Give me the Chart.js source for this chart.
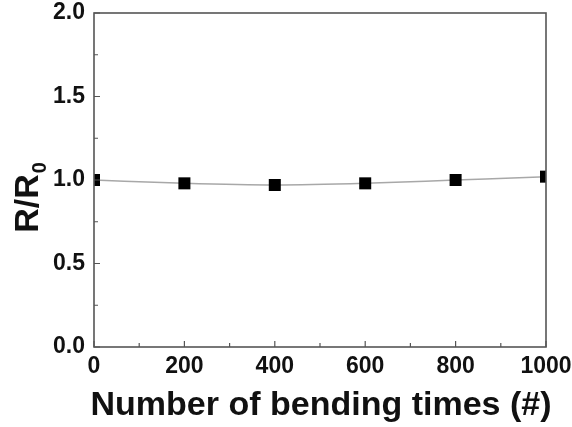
<!DOCTYPE html>
<html>
<head>
<meta charset="utf-8">
<script src="https://cdn.jsdelivr.net/npm/chart.js@4.4.1/dist/chart.umd.min.js"></script>
<style>
  html, body { margin: 0; padding: 0; background: #fff; }
  #wrap { width: 572px; height: 427px; }
</style>
</head>
<body>
<div id="wrap"><canvas id="myChart" width="572" height="427"></canvas></div>
<script>
// data
var bendTimes = [0, 200, 400, 600, 800, 1000];
var resistanceRatio = [1.0, 0.98, 0.97, 0.98, 1.0, 1.02];
var xTicks = [0, 200, 400, 600, 800, 1000];
var yTicks = [0.0, 0.5, 1.0, 1.5, 2.0];
var xMinor = [100, 300, 500, 700, 900];
var yMinor = [0.25, 0.75, 1.25, 1.75];

var FONT = "'Liberation Sans', Arial, sans-serif";

// frame, inward ticks, axis titles
const framePlugin = {
  id: 'framePlugin',
  afterDraw: (chart) => {
    const ctx = chart.ctx;
    const {top, left, right, bottom} = chart.chartArea;
    const xs = chart.scales.x, ys = chart.scales.y;
    ctx.save();
    ctx.strokeStyle = '#555';
    ctx.lineWidth = 1.6;
    ctx.strokeRect(left, top, right - left, bottom - top);

    ctx.lineWidth = 1.2;
    ctx.beginPath();
    xTicks.forEach(v => { var px = xs.getPixelForValue(v); ctx.moveTo(px, bottom); ctx.lineTo(px, bottom - 6); });
    xMinor.forEach(v => { var px = xs.getPixelForValue(v); ctx.moveTo(px, bottom); ctx.lineTo(px, bottom - 4); });
    yTicks.forEach(v => { var py = ys.getPixelForValue(v); ctx.moveTo(left, py); ctx.lineTo(left + 6, py); });
    yMinor.forEach(v => { var py = ys.getPixelForValue(v); ctx.moveTo(left, py); ctx.lineTo(left + 4, py); });
    ctx.stroke();

    // x title
    ctx.fillStyle = '#111';
    ctx.font = 'bold 34px ' + FONT;
    ctx.textAlign = 'center';
    ctx.textBaseline = 'alphabetic';
    ctx.fillText('Number of bending times (#)', 321, 415);

    // y title R/R0 with subscript
    ctx.translate(38, 198);
    ctx.rotate(-Math.PI / 2);
    var main = 'R/R';
    ctx.font = 'bold 34px ' + FONT;
    var w1 = ctx.measureText(main).width;
    ctx.font = 'bold 20px ' + FONT;
    var w2 = ctx.measureText('0').width;
    var x0 = -(w1 + w2) / 2;
    ctx.textAlign = 'left';
    ctx.font = 'bold 34px ' + FONT;
    ctx.fillText(main, x0, 0);
    ctx.font = 'bold 20px ' + FONT;
    ctx.fillText('0', x0 + w1 + 1, 8);
    ctx.restore();
  }
};

var ctx = document.getElementById('myChart').getContext('2d');

const config = {
  type: 'line',
  data: {
    datasets: [{
      data: bendTimes.map((t, i) => ({x: t, y: resistanceRatio[i]})),
      borderColor: '#a8a8a8',
      borderWidth: 1.5,
      cubicInterpolationMode: 'monotone',
      pointStyle: 'rect',
      pointRadius: 8.5,
      pointBackgroundColor: '#000',
      pointBorderColor: '#000',
      pointBorderWidth: 0,
      fill: false
    }]
  },
  plugins: [framePlugin],
  options: {
    responsive: false,
    animation: false,
    layout: { padding: { top: 13, right: 26, left: 0, bottom: 0 } },
    scales: {
      x: {
        type: 'linear',
        min: 0,
        max: 1000,
        grid: { display: false, drawTicks: false },
        border: { display: false },
        ticks: {
          stepSize: 200,
          padding: 6,
          color: '#111',
          font: { family: FONT, size: 23, weight: 'bold' },
          callback: (v) => String(v)
        },
        afterFit: (scale) => { scale.height = 80; scale.paddingRight = 0; scale.paddingLeft = 0; }
      },
      y: {
        min: 0,
        max: 2,
        grid: { display: false, drawTicks: false },
        border: { display: false },
        ticks: {
          stepSize: 0.5,
          padding: 9,
          color: '#111',
          font: { family: FONT, size: 23, weight: 'bold' },
          callback: (v) => v.toFixed(1)
        },
        afterFit: (scale) => { scale.width = 94; scale.paddingTop = 0; scale.paddingBottom = 0; }
      }
    },
    plugins: {
      legend: { display: false },
      title: { display: false },
      tooltip: { enabled: false }
    }
  }
};

var scatterChart = new Chart(ctx, config);
</script>
</body>
</html>
